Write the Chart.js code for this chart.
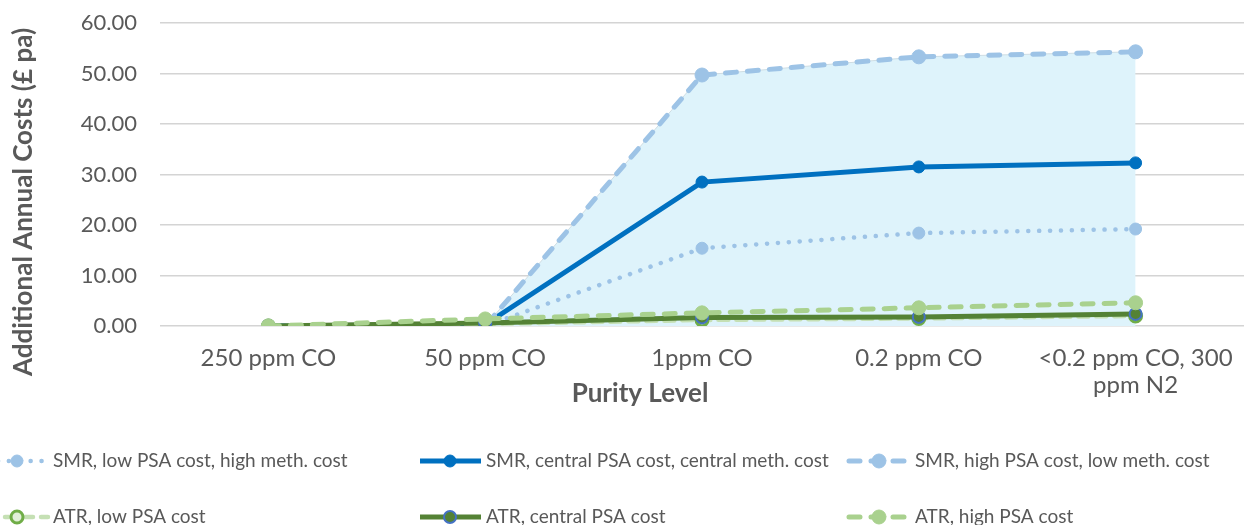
<!DOCTYPE html>
<html>
<head>
<meta charset="utf-8">
<script src="https://cdn.jsdelivr.net/npm/chart.js@4.4.1/dist/chart.umd.min.js"></script>
<style>
  html, body { margin: 0; padding: 0; background: #fff; }
  #wrap { width: 1244px; height: 525px; position: relative; overflow: hidden; }
</style>
</head>
<body>
<div id="wrap"><canvas id="chart" width="1244" height="525"></canvas></div>
<script>
// chart data
const categories = ['250 ppm CO', '50 ppm CO', '1ppm CO', '0.2 ppm CO', ['<0.2 ppm CO, 300', 'ppm N2']];
const smrLow = [0, 0, 15.4, 18.4, 19.2];
const smrCentral = [0, 0.3, 28.5, 31.5, 32.3];
const smrHigh = [0, 0, 49.7, 53.3, 54.3];
const atrLow = [0, 0.4, 1.2, 1.5, 2.0];
const atrCentral = [0, 0.6, 1.7, 1.8, 2.4];
const atrHigh = [0, 1.4, 2.6, 3.6, 4.6];
const yTicks = [0, 10, 20, 30, 40, 50, 60];

const FONT = 'Lato, "Open Sans", sans-serif';
const TEXT = '#595959';

// legend slots: [x of icon centre, y]
const legendSlots = [
  [17, 461], [450, 461], [879, 461],
  [17, 517], [450, 517], [879, 517]
];

const axisTitles = {
  id: 'axisTitles',
  afterDraw(chart) {
    const ctx = chart.ctx;
    ctx.save();
    ctx.fillStyle = TEXT;
    ctx.font = 'bold 26px ' + FONT;
    ctx.textAlign = 'center';
    ctx.textBaseline = 'middle';
    ctx.fillText('Purity Level', 640, 394);
    ctx.translate(24, 202);
    ctx.rotate(-Math.PI / 2);
    ctx.fillText('Additional Annual Costs (£ pa)', 0, 0);
    ctx.restore();
  }
};

const bottomLegend = {
  id: 'bottomLegend',
  afterDraw(chart) {
    const ctx = chart.ctx;
    const sets = chart.data.datasets.filter(d => !d.isArea);
    sets.forEach((ds, i) => {
      const [cx, y] = legendSlots[i];
      ctx.save();
      ctx.strokeStyle = ds.borderColor;
      ctx.lineWidth = ds.borderWidth;
      ctx.lineCap = ds.borderCapStyle || 'butt';
      ctx.setLineDash(ds.borderDash || []);
      ctx.beginPath();
      ctx.moveTo(cx - 30, y);
      ctx.lineTo(cx + 31, y);
      ctx.stroke();
      ctx.setLineDash([]);
      ctx.beginPath();
      ctx.arc(cx, y, ds.pointRadius, 0, Math.PI * 2);
      ctx.fillStyle = ds.pointBackgroundColor;
      ctx.fill();
      ctx.lineWidth = ds.pointBorderWidth;
      ctx.strokeStyle = ds.pointBorderColor;
      ctx.stroke();
      ctx.fillStyle = TEXT;
      ctx.font = '19px ' + FONT;
      ctx.textAlign = 'left';
      ctx.textBaseline = 'middle';
      ctx.fillText(ds.label, cx + 36, y);
      ctx.restore();
    });
  }
};

new Chart(document.getElementById('chart'), {
  type: 'line',
  data: {
    labels: categories,
    datasets: [
      {
        label: 'SMR, low PSA cost, high meth. cost',
        data: smrLow,
        borderColor: '#9DC3E6', borderWidth: 4.5,
        borderDash: [0.1, 10.8], borderCapStyle: 'round',
        pointRadius: 6, pointBackgroundColor: '#9DC3E6', pointBorderColor: '#9DC3E6', pointBorderWidth: 1,
        order: 6
      },
      {
        label: 'SMR, central PSA cost, central meth. cost',
        data: smrCentral,
        borderColor: '#0070C0', borderWidth: 5,
        pointRadius: 6, pointBackgroundColor: '#0070C0', pointBorderColor: '#0070C0', pointBorderWidth: 1,
        order: 5
      },
      {
        label: 'SMR, high PSA cost, low meth. cost',
        data: smrHigh,
        borderColor: '#9DC3E6', borderWidth: 5,
        borderDash: [11, 11], borderCapStyle: 'round',
        pointRadius: 7, pointBackgroundColor: '#9DC3E6', pointBorderColor: '#9DC3E6', pointBorderWidth: 1,
        order: 4
      },
      {
        label: 'ATR, low PSA cost',
        data: atrLow,
        borderColor: '#C5E0B4', borderWidth: 4.5,
        borderDash: [10, 8], borderCapStyle: 'round',
        pointRadius: 6, pointBackgroundColor: '#E2F0D9', pointBorderColor: '#70AD47', pointBorderWidth: 3,
        order: 3
      },
      {
        label: 'ATR, central PSA cost',
        data: atrCentral,
        borderColor: '#548235', borderWidth: 5,
        pointRadius: 6, pointBackgroundColor: '#548235', pointBorderColor: '#4472C4', pointBorderWidth: 2,
        order: 2
      },
      {
        label: 'ATR, high PSA cost',
        data: atrHigh,
        borderColor: '#A9D18E', borderWidth: 5,
        borderDash: [11, 11], borderCapStyle: 'round',
        pointRadius: 7, pointBackgroundColor: '#A9D18E', pointBorderColor: '#A9D18E', pointBorderWidth: 1,
        order: 1
      },
      {
        label: 'range',
        isArea: true,
        data: smrHigh,
        fill: 'origin',
        backgroundColor: '#DEF3FB',
        borderColor: '#CFDDE3', borderWidth: 1,
        pointRadius: 0,
        order: 10
      }
    ]
  },
  options: {
    responsive: false,
    animation: false,
    devicePixelRatio: 1,
    layout: { autoPadding: false, padding: { top: 23, right: 0, bottom: 109, left: 0 } },
    plugins: { legend: { display: false }, tooltip: { enabled: false } },
    scales: {
      x: {
        type: 'category',
        offset: true,
        grid: { display: false, drawTicks: false },
        border: { display: false },
        ticks: {
          color: TEXT, font: { family: FONT, size: 24, lineHeight: 1.13 },
          padding: 19, autoSkip: false, maxRotation: 0
        },
        afterFit(scale) {
          scale.height = 90;
          scale.paddingLeft = 0;
          scale.paddingRight = 0;
        }
      },
      y: {
        min: 0, max: 60,
        afterBuildTicks(scale) { scale.ticks = yTicks.map(v => ({ value: v })); },
        grid: { color: '#D4D4D4', lineWidth: 1.5, drawTicks: false },
        border: { display: false },
        ticks: {
          color: TEXT, font: { family: FONT, size: 22 },
          padding: 23,
          callback: v => v.toFixed(2)
        },
        afterFit(scale) {
          scale.width = 160;
          scale.paddingTop = 0;
          scale.paddingBottom = 0;
        }
      }
    }
  },
  plugins: [axisTitles, bottomLegend]
});
</script>
</body>
</html>
